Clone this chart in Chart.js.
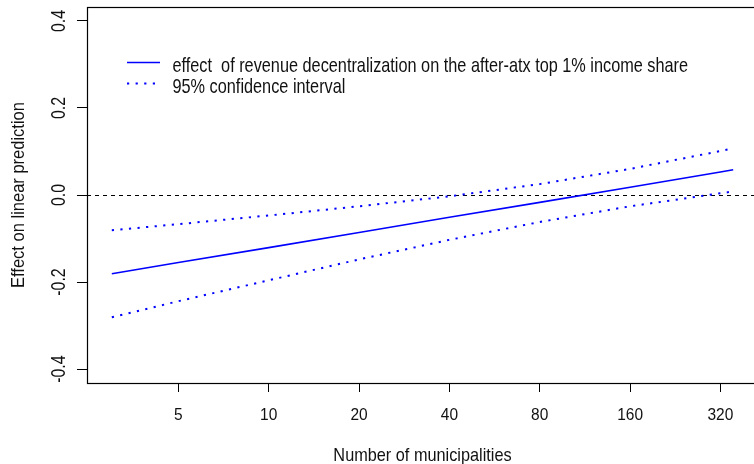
<!DOCTYPE html>
<html>
<head>
<meta charset="utf-8">
<script src="https://cdn.jsdelivr.net/npm/chart.js@4.4.1/dist/chart.umd.min.js"></script>
<style>
  html, body { margin: 0; padding: 0; background: #fff; overflow: hidden; }
  #wrap { width: 754px; height: 464px; overflow: hidden; }
</style>
</head>
<body>
<div id="wrap"><canvas id="myChart" width="770" height="464"></canvas></div>
<script>
// marginal effect by number of municipalities (log axis), with 95% band
const munis   = [3, 5, 10, 20, 40, 80, 160, 320, 353];
const effect  = [-0.181, -0.155, -0.121, -0.086, -0.051, -0.017, 0.018, 0.053, 0.058];
const ciUpper = [-0.081, -0.067, -0.047, -0.026, -0.003, 0.025, 0.060, 0.101, 0.107];
const ciLower = [-0.281, -0.244, -0.196, -0.148, -0.103, -0.062, -0.026, 0.004, 0.008];

const xTicks = [5, 10, 20, 40, 80, 160, 320];
const yTicks = [-0.4, -0.2, 0.0, 0.2, 0.4];
const yTickText = ['-0.4', '-0.2', '0.0', '0.2', '0.4'];

const effectLabel = 'effect  of revenue decentralization on the after-atx top 1% income share';
const ciLabel = '95% confidence interval';
const xTitle = 'Number of municipalities';
const yTitle = 'Effect on linear prediction';

const FONT = "'Liberation Sans', Arial, sans-serif";
const BLUE = '#0000ff';
const INK = '#111';

function pts(ys) {
  return munis.map((m, i) => ({ x: m, y: ys[i] }));
}

// text with glyphs a little taller than wide, optionally turned 90deg
function tallText(ctx, txt, x, y, size, stretch, rotate, align) {
  ctx.save();
  ctx.translate(x, y);
  if (rotate) ctx.rotate(-Math.PI / 2);
  ctx.scale(1, stretch);
  ctx.font = size + 'px ' + FONT;
  ctx.textAlign = align || 'center';
  ctx.textBaseline = 'alphabetic';
  ctx.fillStyle = INK;
  ctx.fillText(txt, 0, 0);
  ctx.restore();
}

const rStyle = {
  id: 'rStyle',
  beforeDatasetsDraw(chart) {
    const { ctx, chartArea: a, scales: { y } } = chart;
    const y0 = Math.round(y.getPixelForValue(0)) + 0.5;
    ctx.save();
    ctx.strokeStyle = '#000';
    ctx.lineWidth = 1;
    ctx.setLineDash([4, 4]);
    ctx.beginPath();
    ctx.moveTo(a.left, y0);
    ctx.lineTo(a.right, y0);
    ctx.stroke();
    ctx.restore();
  },
  afterDraw(chart) {
    const { ctx, chartArea: a, scales: { x, y } } = chart;
    ctx.save();
    // plot box
    ctx.strokeStyle = '#000';
    ctx.lineWidth = 1.2;
    ctx.strokeRect(a.left + 0.5, a.top + 0.5, a.right - a.left, a.bottom - a.top);

    // y tick labels, parallel to the axis
    y.ticks.forEach((t, i) => {
      tallText(ctx, yTickText[i], 65, y.getPixelForValue(t.value), 16, 1.3, true);
    });

    // x tick labels
    x.ticks.forEach(t => {
      tallText(ctx, String(t.value), x.getPixelForValue(t.value), 420, 15.5, 1.1, false);
    });

    // axis titles
    tallText(ctx, yTitle, 24, (a.top + a.bottom) / 2, 16.5, 1.15, true);
    tallText(ctx, xTitle, (a.left + a.right) / 2, 461, 16.3, 1.15, false);

    // legend
    const items = chart.data.datasets.filter(d => !d.noLegend);
    items.forEach((ds, i) => {
      const ly = 62.5 + i * 21;
      ctx.strokeStyle = ds.borderColor;
      ctx.lineWidth = ds.borderWidth;
      ctx.setLineDash(ds.borderDash || []);
      ctx.beginPath();
      ctx.moveTo(127, ly);
      ctx.lineTo(160, ly);
      ctx.stroke();
      ctx.setLineDash([]);
      tallText(ctx, ds.label, 172.5, 72 + i * 20.7, 16.3, 1.2, false, 'left');
    });
    ctx.restore();
  }
};

const config = {
  type: 'line',
  data: {
    datasets: [{
      label: effectLabel,
      data: pts(effect),
      borderColor: BLUE,
      borderWidth: 1.6
    }, {
      label: ciLabel,
      data: pts(ciUpper),
      borderColor: BLUE,
      borderWidth: 2,
      borderDash: [2.2, 6.4]
    }, {
      label: ciLabel,
      data: pts(ciLower),
      borderColor: BLUE,
      borderWidth: 2,
      borderDash: [2.2, 6.4],
      noLegend: true
    }]
  },
  options: {
    responsive: false,
    animation: false,
    elements: { point: { radius: 0 }, line: { tension: 0 } },
    layout: { padding: { top: 7, right: 12, left: 0, bottom: 0 } },
    plugins: {
      legend: { display: false },
      tooltip: { enabled: false }
    },
    scales: {
      x: {
        type: 'logarithmic',
        min: 2.48,
        max: 427,
        afterBuildTicks: s => { s.ticks = xTicks.map(v => ({ value: v })); },
        afterFit: s => { s.height = 81; },
        ticks: { display: false },
        grid: { drawOnChartArea: false, drawTicks: true, tickLength: 9, color: '#000' },
        border: { display: false }
      },
      y: {
        type: 'linear',
        min: -0.432,
        max: 0.432,
        afterBuildTicks: s => { s.ticks = yTicks.map(v => ({ value: v })); },
        afterFit: s => { s.width = 87; },
        ticks: { display: false },
        grid: { drawOnChartArea: false, drawTicks: true, tickLength: 10, color: '#000' },
        border: { display: false }
      }
    }
  },
  plugins: [rStyle]
};

const ctx = document.getElementById('myChart').getContext('2d');
let myChart = new Chart(ctx, config);
</script>
</body>
</html>
